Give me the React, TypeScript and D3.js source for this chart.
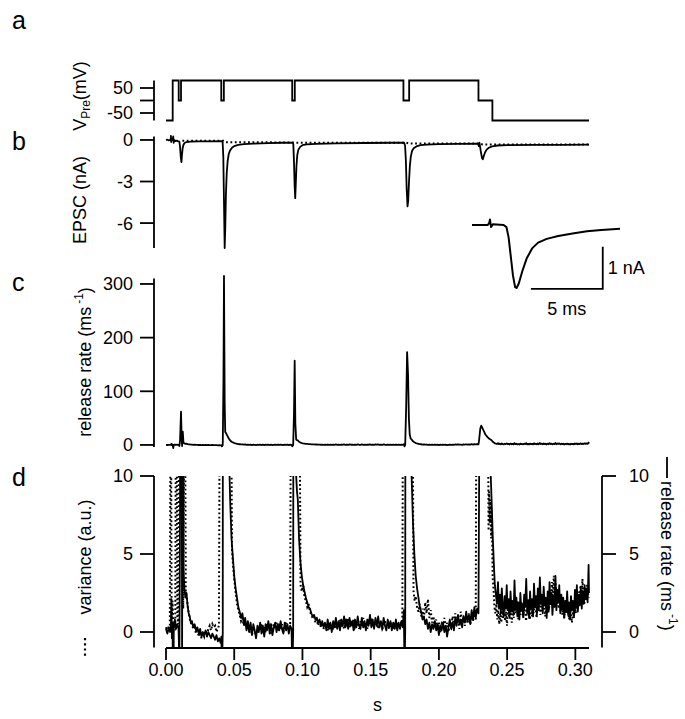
import React from 'react';
import * as d3 from 'd3';

// time axis (s)
const timeTicks = [0, 0.05, 0.1, 0.15, 0.2, 0.25, 0.3];

// a: presynaptic command potential, step times (ms) and levels (mV)
const vPreTimes = [0, 4.9, 9.3, 11.0, 40.5, 42.4, 92.5, 94.4, 174.0, 178.2, 229.0, 239.2, 310];
const vPreLevels = [-80, 80, 0, 80, 0, 80, 0, 80, 0, 80, 0, -80, -80];
const vPreTicks = [50, 0, -50];
const vPreLabels = ['50', '', '-50'];

// b: EPSC (ms, nA)
const epscTicks = [0, -3, -6];
const epsc: [number, number][] = [
  [0, 0], [1, 0.02], [2, -0.03], [3, 0], [3.4, 0], [3.6, 0.3], [3.8, -0.15], [4.1, 0.05], [4.8, 0],
  [5.3, 0.25], [5.6, -0.2], [6.0, 0], [7, -0.08], [8, -0.05], [9, -0.1], [9.8, -0.12], [10.3, -0.5],
  [10.8, -1.2], [11.3, -1.6], [11.7, -1.1], [12.2, -0.6], [12.8, -0.35], [13.6, -0.22], [15, -0.15],
  [18, -0.12], [24, -0.1], [32, -0.1], [40.8, -0.08], [41.5, -0.15], [42.0, -1.2], [42.5, -4.5],
  [43.0, -7.8], [43.4, -6.5], [43.9, -4.0], [44.5, -2.4], [45.2, -1.5], [46, -1.0], [47, -0.75],
  [48.5, -0.55], [50.5, -0.42], [53, -0.35], [57, -0.3], [64, -0.26], [75, -0.23], [85, -0.2],
  [92.8, -0.2], [93.3, -0.3], [93.8, -1.6], [94.3, -3.4], [94.7, -4.2], [95.1, -3.2], [95.6, -1.9],
  [96.2, -1.1], [97, -0.7], [98.3, -0.5], [100, -0.38], [103, -0.32], [110, -0.28], [125, -0.25],
  [145, -0.22], [165, -0.2], [174.5, -0.2], [175.2, -0.4], [175.8, -1.5], [176.4, -3.6], [177.0, -4.8],
  [177.5, -4.4], [178.1, -3.0], [178.7, -1.9], [179.4, -1.2], [180.3, -0.8], [181.5, -0.6],
  [183.5, -0.47], [186.5, -0.38], [191, -0.33], [200, -0.3], [214, -0.28], [228.8, -0.27],
  [229.3, -0.45], [229.7, -0.2], [230.2, -0.5], [230.9, -0.95], [231.6, -1.3], [232.2, -1.4],
  [232.9, -1.15], [233.8, -0.9], [235, -0.7], [236.6, -0.56], [239, -0.46], [243, -0.4], [250, -0.37],
  [270, -0.35], [290, -0.35], [310, -0.34],
];
const epscBaseline: [number, number][] = [
  [12, -0.05], [42, -0.06], [44, -0.16], [93.5, -0.18], [95.5, -0.2], [176, -0.2], [178, -0.25],
  [230, -0.26], [232, -0.32], [310, -0.32],
];
// inset: single EPSC on expanded time base (ms, nA)
const insetEpsc: [number, number][] = [
  [0, 0], [1.1, 0], [1.2, 0.05], [1.25, 0.13], [1.33, -0.05], [1.45, 0.02], [2.2, 0], [2.4, -0.05],
  [2.55, -0.3], [2.7, -0.75], [2.85, -1.2], [3.0, -1.48], [3.1, -1.5], [3.25, -1.4], [3.5, -1.1],
  [3.8, -0.8], [4.2, -0.55], [4.6, -0.42], [5.2, -0.33], [6, -0.26], [7, -0.2], [8, -0.15], [9, -0.12],
  [10.3, -0.09],
];

// c/d: release rate (ms, 1/ms)
const rateTicks = [0, 100, 200, 300];
const releaseRate: [number, number][] = [
  [0, 0.2], [1, -0.1], [2, 0.3], [3, 0], [3.6, 0.4], [4.0, 2.1], [4.3, -0.4], [4.8, 0.6], [5.3, -6],
  [5.7, 0.3], [6.5, 0.8], [7.3, 0.2], [8.2, 0.5], [9.2, 0.2], [9.8, -2], [10.3, 8], [11.0, 62],
  [11.4, 20], [11.8, -2], [12.3, 25], [12.8, 4], [13.5, 2.8], [14.2, 2.2], [15.0, 2.5], [15.8, 1.7],
  [16.6, 1.2], [17.4, 1.0], [18.2, 0.6], [19, 0.7], [20, 0.3], [21, 0.5], [22, 0.1], [23, 0.3],
  [24, -0.1], [25, 0.2], [26, -0.3], [27, 0], [28, -0.2], [29, 0.1], [30, -0.3], [31, 0], [32, -0.2],
  [33, -0.4], [34, -0.1], [35, -0.3], [36, -0.5], [37, -0.2], [38, -0.6], [39, -0.4], [40, -0.7],
  [40.6, -0.3], [41.0, -2.5], [41.6, 0], [42.1, 120], [42.5, 315], [43.0, 80], [43.4, 24], [44.0, 22],
  [45, 17], [46, 12], [47, 8.5], [48, 6], [49, 4.8], [50, 3.6], [51, 2.8], [52, 2.2], [53, 1.6],
  [54, 1.3], [55, 0.9], [56, 1.2], [57, 0.5], [58, 0.9], [59, 0.1], [60, 0.7], [61, 0.0], [62, 0.6],
  [63, -0.2], [64, 0.5], [65, 0.1], [66, -0.4], [67, 0.4], [68, 0.0], [69, 0.6], [70, -0.1], [71, 0.4],
  [72, -0.3], [73, 0.5], [74, 0.1], [75, 0.7], [76, -0.1], [77, 0.5], [78, -0.2], [79, 0.3], [80, 0.6],
  [81, 0.0], [82, 0.5], [83, 0.1], [84, 0.7], [85, 0.2], [86, -0.1], [87, 0.6], [88, 0.1], [89, 0.5],
  [90, -0.1], [91, 0.4], [92, 0.2], [92.6, -2.5], [93.2, 0], [93.8, 60], [94.3, 157], [94.8, 40],
  [95.4, 10], [96.0, 9], [96.6, 8.5], [97.5, 6], [98.5, 4.5], [99.5, 3.6], [100.5, 3.0], [101.5, 2.6],
  [102.5, 2.2], [103.5, 1.9], [104.5, 1.6], [105.5, 1.5], [106.5, 1.2], [107.5, 1.0], [108.5, 1.1],
  [109.5, 0.8], [110.5, 0.9], [111.5, 0.6], [112.5, 0.8], [113.5, 0.4], [114.5, 0.7], [115.5, 0.3],
  [116.5, 0.6], [117.5, 0.1], [118.5, 0.8], [119.5, 0.2], [120.5, 0.6], [121.5, 0.0], [122.5, 0.7],
  [123.5, 0.3], [124.5, 0.9], [125.5, 0.2], [126.5, 0.7], [127.5, 0.1], [128.5, 0.8], [129.5, 0.4],
  [130.5, 1.0], [131.5, 0.3], [132.5, 0.8], [133.5, 0.2], [134.5, 0.9], [135.5, 0.4], [136.5, 0.7],
  [137.5, 0.1], [138.5, 0.8], [139.5, 0.3], [140.5, 1.0], [141.5, 0.4], [142.5, 0.2], [143.5, 0.9],
  [144.5, 0.3], [145.5, 0.7], [146.5, 0.1], [147.5, 0.8], [148.5, 0.4], [149.5, 1.1], [150.5, 0.3],
  [151.5, 0.8], [152.5, 0.2], [153.5, 0.9], [154.5, 0.4], [155.5, 1.0], [156.5, 0.3], [157.5, 0.7],
  [158.5, 0.2], [159.5, 0.9], [160.5, 0.4], [161.5, 0.1], [162.5, 0.8], [163.5, 0.3], [164.5, 0.7],
  [165.5, 0.1], [166.5, 0.6], [167.5, 0.2], [168.5, 0.8], [169.5, 0.1], [170.5, 0.6], [171.5, 0.2],
  [172.5, 0.7], [173.5, 0.3], [174.3, 1.4], [174.8, -2.5], [175.3, 0], [176.0, 70], [176.7, 173],
  [177.4, 130], [178.0, 50], [178.6, 20], [179.3, 12], [180, 10], [181, 7], [182, 5], [183, 3.6],
  [184, 2.8], [185, 2.2], [186, 1.6], [187, 1.3], [188, 0.8], [189, 1.0], [190, 0.5], [191, 0.8],
  [192, 0.2], [193, 0.6], [194, 0], [195, 0.5], [196, 0.2], [197, 0.7], [198, 0.1], [199, 0.5],
  [200, -0.2], [201, 0.4], [202, 0.1], [203, 0.6], [204, 0], [205, 0.4], [206, -0.3], [207, 0.3],
  [208, 0.8], [209, 0.2], [210, 0.6], [211, 0.1], [212, 0.9], [213, 0.4], [214, 1.1], [215, 0.5],
  [216, 0.8], [217, 0.3], [218, 1.0], [219, 0.6], [220, 1.3], [221, 0.7], [222, 1.1], [223, 0.5],
  [224, 1.4], [225, 0.8], [226, 1.6], [227, 0.9], [228, 1.5], [229, 1.2], [229.5, 10], [230.3, 30],
  [231.0, 36], [231.8, 32], [232.5, 28], [233.3, 24], [234.2, 19], [235.2, 16], [236.2, 13],
  [237.2, 11], [238.0, 10], [238.8, 8], [239.5, 6], [240.2, 4.5], [241, 3.0], [241.8, 2.4],
  [242.5, 1.8], [243.3, 3.2], [244, 1.5], [244.7, 2.4], [245.4, 1.2], [246.1, 2.8], [246.8, 1.6],
  [247.5, 1.0], [248.2, 2.3], [249, 1.5], [249.7, 3.0], [250.4, 1.4], [251.1, 2.1], [251.8, 0.9],
  [252.5, 2.6], [253.2, 1.3], [254, 2.0], [254.7, 1.1], [255.4, 3.3], [256.1, 1.5], [256.8, 2.2],
  [257.5, 1.0], [258.2, 1.9], [259, 0.8], [259.7, 2.5], [260.4, 1.4], [261.1, 1.8], [261.8, 1.0],
  [262.5, 2.4], [263.2, 1.6], [264, 3.4], [264.7, 1.2], [265.4, 2.0], [266.1, 0.9], [266.8, 2.6],
  [267.5, 1.5], [268.2, 2.1], [269, 1.0], [269.7, 3.1], [270.4, 1.6], [271.1, 2.3], [271.8, 1.1],
  [272.5, 2.8], [273.2, 1.4], [274, 3.5], [274.7, 1.8], [275.4, 2.4], [276.1, 1.2], [276.8, 2.9],
  [277.5, 1.7], [278.2, 2.2], [279, 0.9], [279.7, 2.6], [280.4, 1.3], [281.1, 3.2], [281.8, 1.8],
  [282.5, 2.5], [283.2, 1.1], [284, 2.3], [284.7, 1.6], [285.4, 3.6], [286.1, 1.4], [286.8, 2.7],
  [287.5, 1.9], [288.2, 3.0], [289, 1.2], [289.7, 2.4], [290.4, 1.5], [291.1, 2.2], [291.8, 0.9],
  [292.5, 2.0], [293.2, 1.3], [294, 2.6], [294.7, 1.1], [295.4, 1.9], [296.1, 0.8], [296.8, 2.3],
  [297.5, 1.4], [298.2, 2.0], [299, 1.0], [299.7, 2.7], [300.4, 1.6], [301.1, 3.0], [301.8, 1.3],
  [302.5, 2.4], [303.2, 1.7], [304, 2.9], [304.7, 1.5], [305.4, 2.6], [306.1, 1.8], [306.8, 3.0],
  [307.5, 2.1], [308.2, 2.8], [309, 1.9], [309.7, 4.3], [310, 2.5],
];

// d: variance of the EPSC (ms, a.u.)
const zoomTicks = [0, 5, 10];
const variance: [number, number][] = [
  [0, 0.3], [1, 0], [2, 0.4], [2.8, 0.1], [3.3, 14], [3.7, 14], [4.1, 0.8], [4.8, 2.0], [5.4, 0.2],
  [6.2, 0.6], [6.8, 0.1], [7.2, 14], [7.8, 14], [8.3, 1.0], [9, 0.5], [9.6, 14], [12, 14], [12.6, 1.5],
  [13.4, 14], [14.0, 14], [14.5, 2.6], [15.3, 2.2], [16, 1.6], [17, 1.0], [18, 0.6], [19, 0.5],
  [20, 0.2], [21, 0.3], [22, -0.1], [23, 0.2], [24, -0.3], [25, 0], [26, -0.4], [27, -0.1], [28, -0.3],
  [29, 0.1], [30, -0.2], [31, 0.2], [32, 0.4], [33, 0.1], [34, 0.5], [35, 0.3], [36, 0.4], [37, 0],
  [38, 0.2], [38.8, 0.4], [39.3, 14], [47.8, 14], [48.4, 5.2], [49.2, 4.2], [50, 3.4], [51, 2.6],
  [52, 1.8], [53, 1.4], [54, 1.1], [55, 0.7], [56, 0.9], [57, 0.4], [58, 0.7], [59, 0.2], [60, 0.5],
  [61, 0], [62, 0.4], [63, -0.2], [64, 0.3], [65, 0.1], [66, -0.3], [67, 0.2], [68, 0.4], [69, 0.1],
  [70, 0.5], [71, -0.1], [72, 0.3], [73, 0], [74, 0.5], [75, 0.2], [76, 0.4], [77, -0.1], [78, 0.3],
  [79, 0.5], [80, 0.2], [81, 0.6], [82, 0.1], [83, 0.4], [84, 0.2], [85, 0.5], [86, 0], [87, 0.3],
  [88, 0.6], [89, 0.2], [90, 0.4], [91, 0.3], [91.4, 14], [98.0, 14], [98.6, 3.0], [99.5, 2.6],
  [100.5, 3.1], [101.5, 2.2], [102.5, 2.0], [103.5, 1.6], [104.5, 1.8], [105.5, 1.3], [106.5, 1.1],
  [107.5, 0.9], [108.5, 1.0], [109.5, 0.6], [110.5, 0.8], [111.5, 0.4], [112.5, 0.7], [113.5, 0.3],
  [114.5, 0.6], [115.5, 0.2], [116.5, 0.5], [117.5, 0.4], [118.5, 0.1], [119.5, 0.6], [120.5, 0.2],
  [121.5, 0.5], [122.5, 0.3], [123.5, 0.7], [124.5, 0.2], [125.5, 0.5], [126.5, 0.4], [127.5, 0.8],
  [128.5, 0.3], [129.5, 0.6], [130.5, 0.2], [131.5, 0.7], [132.5, 0.5], [133.5, 0.9], [134.5, 0.3],
  [135.5, 0.6], [136.5, 0.4], [137.5, 0.8], [138.5, 0.3], [139.5, 0.5], [140.5, 0.6], [141.5, 0.2],
  [142.5, 0.7], [143.5, 0.4], [144.5, 0.9], [145.5, 0.3], [146.5, 0.6], [147.5, 0.2], [148.5, 0.8],
  [149.5, 0.5], [150.5, 0.7], [151.5, 0.3], [152.5, 0.6], [153.5, 0.4], [154.5, 0.7], [155.5, 0.2],
  [156.5, 0.5], [157.5, 0.6], [158.5, 0.2], [159.5, 0.4], [160.5, 0.7], [161.5, 0.3], [162.5, 0.5],
  [163.5, 0.2], [164.5, 0.6], [165.5, 0.4], [166.5, 0.3], [167.5, 0.6], [168.5, 0.2], [169.5, 0.5],
  [170.5, 0.4], [171.5, 0.3], [172.5, 0.7], [173.2, 0.5], [173.6, 14], [180.8, 14], [181.4, 2.6],
  [182.2, 2.0], [183, 2.3], [184, 1.6], [185, 1.3], [186, 1.8], [187, 1.0], [188, 1.5], [189, 0.8],
  [190, 1.9], [191, 1.2], [192, 2.1], [193, 0.9], [194, 1.4], [195, 0.6], [196, 1.0], [197, 0.3],
  [198, 0.8], [199, 0.2], [200, 0.6], [201, 0], [202, 0.5], [203, 0.3], [204, 0.9], [205, 0.2],
  [206, 0.6], [207, 0], [208, 0.5], [209, 0.3], [210, 1.0], [211, 0.4], [212, 1.2], [213, 0.6],
  [214, 0.9], [215, 0.2], [216, 1.3], [217, 0.7], [218, 0.9], [219, 0.4], [220, 1.0], [221, 0.6],
  [222, 1.2], [223, 0.5], [224, 1.0], [225, 0.7], [226, 1.3], [227, 0.8], [227.4, 14], [236.0, 14],
  [236.4, 6.5], [236.8, 9], [237.3, 7], [237.8, 8.5], [238.3, 6], [238.8, 7.5], [239.4, 3.5],
  [240, 2.8], [240.7, 1.6], [241.4, 1.2], [242.1, 1.8], [242.8, 0.8], [243.5, 1.4], [244.2, 0.5],
  [245, 1.2], [245.7, 0.6], [246.4, 1.5], [247.1, 0.9], [247.8, 1.8], [248.5, 0.7], [249.2, 1.3],
  [249.9, 0.4], [250.6, 1.6], [251.3, 1.0], [252, 1.9], [252.7, 1.1], [253.4, 0.6], [254.1, 1.4],
  [254.8, 0.9], [255.5, 1.7], [256.2, 1.2], [256.9, 2.0], [257.6, 1.3], [258.3, 0.8], [259, 1.6],
  [259.7, 1.1], [260.4, 1.9], [261.1, 1.4], [261.8, 0.9], [262.5, 1.7], [263.2, 1.2], [263.9, 0.7],
  [264.6, 1.5], [265.3, 2.1], [266, 1.3], [266.7, 0.8], [267.4, 1.6], [268.1, 1.0], [268.8, 1.8],
  [269.5, 1.2], [270.2, 2.2], [270.9, 1.5], [271.6, 0.9], [272.3, 1.7], [273, 2.4], [273.7, 1.6],
  [274.4, 1.1], [275.1, 1.9], [275.8, 1.3], [276.5, 2.3], [277.2, 1.5], [277.9, 1.0], [278.6, 1.8],
  [279.3, 1.2], [280, 2.0], [280.7, 1.4], [281.4, 2.5], [282.1, 1.7], [282.8, 3.2], [283.5, 2.2],
  [284.2, 3.6], [284.9, 2.4], [285.6, 3.1], [286.3, 1.8], [287, 2.7], [287.7, 1.5], [288.4, 2.3],
  [289.1, 1.3], [289.8, 2.0], [290.5, 1.1], [291.2, 1.8], [291.9, 0.9], [292.6, 1.6], [293.3, 1.2],
  [294, 2.0], [294.7, 1.4], [295.4, 0.8], [296.1, 1.5], [296.8, 1.1], [297.5, 0.6], [298.2, 1.3],
  [298.9, 0.9], [299.6, 1.7], [300.3, 1.2], [301, 2.2], [301.7, 1.5], [302.4, 2.6], [303.1, 1.8],
  [303.8, 3.0], [304.5, 2.1], [305.2, 3.4], [305.9, 2.3], [306.6, 1.8], [307.3, 2.8], [308, 2.0],
  [308.7, 3.1], [309.4, 2.4], [310, 2.2],
];

const FONT = "'Liberation Sans', Arial, Helvetica, sans-serif";
const SW = 1.8;
const FS = 18;

type Scale = d3.ScaleLinear<number, number>;

function LeftAxis({ scale, ticks, labels, x0, top, bottom }: {
  scale: Scale; ticks: number[]; labels: string[]; x0: number; top: number; bottom: number;
}) {
  return (
    <g>
      <line x1={x0} x2={x0} y1={top} y2={bottom} stroke="#000" strokeWidth={SW} />
      {ticks.map((t, i) => (
        <g key={i}>
          <line x1={x0 - 14} x2={x0} y1={scale(t)} y2={scale(t)} stroke="#000" strokeWidth={SW} />
          <text x={x0 - 21} y={scale(t)} dy="0.36em" textAnchor="end" fontSize={FS}>{labels[i]}</text>
        </g>
      ))}
    </g>
  );
}

export default function App() {
  const x = d3.scaleLinear().domain([0, 0.31]).range([166, 589]);
  const yA = d3.scaleLinear().domain([-80, 80]).range([120.5, 80.5]);
  const yB = d3.scaleLinear().domain([-7.8, 0.25]).range([248, 136.5]);
  const yC = d3.scaleLinear().domain([-4, 310]).range([447.1, 278.6]);
  const yD = d3.scaleLinear().domain([-1, 10]).range([647.6, 476]);
  const xi = d3.scaleLinear().domain([0, 10.3]).range([472, 620]);
  const yi = d3.scaleLinear().domain([-1.5, 0]).range([288, 225]);

  const vPre: [number, number][] = vPreTimes.map((t, i) => [t, vPreLevels[i]]);
  const lineA = d3.line<[number, number]>().x(d => x(d[0] / 1000)).y(d => yA(d[1])).curve(d3.curveStepAfter);
  const lineB = d3.line<[number, number]>().x(d => x(d[0] / 1000)).y(d => yB(d[1]));
  const lineC = d3.line<[number, number]>().x(d => x(d[0] / 1000)).y(d => yC(d[1]));
  const lineD = d3.line<[number, number]>().x(d => x(d[0] / 1000)).y(d => yD(d[1]));
  const lineI = d3.line<[number, number]>().x(d => xi(d[0])).y(d => yi(d[1]));

  const axisX = 154;
  const rightX = 602;
  const baseY = 648;

  return (
    <svg width={685} height={719} style={{ position: 'absolute', left: 0, top: 0, background: '#fff' }}
      fontFamily={FONT} fill="#000">
      <defs>
        <clipPath id="clipD">
          <rect x={x(0) - 2} y={yD(10)} width={x(0.31) - x(0) + 4} height={yD(-1) - yD(10)} />
        </clipPath>
      </defs>

      {/* panel letters */}
      <text x={12} y={29} fontSize={25}>a</text>
      <text x={12} y={150} fontSize={25}>b</text>
      <text x={12} y={291} fontSize={25}>c</text>
      <text x={12} y={486} fontSize={25}>d</text>

      {/* a */}
      <LeftAxis scale={yA} ticks={vPreTicks} labels={vPreLabels} x0={axisX} top={yA(80)} bottom={yA(-80)} />
      <text transform="translate(86,96) rotate(-90)" textAnchor="middle" fontSize={FS}>
        V<tspan fontSize={12} dy="4">Pre</tspan><tspan dy="-4">(mV)</tspan>
      </text>
      <path d={lineA(vPre) ?? ''} fill="none" stroke="#000" strokeWidth={SW} />

      {/* b */}
      <LeftAxis scale={yB} ticks={epscTicks} labels={epscTicks.map(String)} x0={axisX} top={yB(0.25)} bottom={yB(-7.8)} />
      <text transform="translate(86,200) rotate(-90)" textAnchor="middle" fontSize={FS}>EPSC (nA)</text>
      <path d={lineB(epscBaseline) ?? ''} fill="none" stroke="#000" strokeWidth={2} strokeDasharray="1.8,2.6" />
      <path d={lineB(epsc) ?? ''} fill="none" stroke="#000" strokeWidth={SW} strokeLinejoin="round" />

      {/* inset */}
      <path d={lineI(insetEpsc) ?? ''} fill="none" stroke="#000" strokeWidth={2} strokeLinejoin="round" />
      <path d={`M${xi(4.1)},${yi(-1.52)}H${xi(9.1)}V${yi(-0.52)}`} fill="none" stroke="#000" strokeWidth={SW} />
      <text x={xi(9.1) + 5} y={yi(-1.02)} dy="0.36em" fontSize={FS}>1 nA</text>
      <text x={xi(6.6)} y={yi(-1.52) + 26} textAnchor="middle" fontSize={FS}>5 ms</text>

      {/* c */}
      <LeftAxis scale={yC} ticks={rateTicks} labels={rateTicks.map(String)} x0={axisX} top={yC(310)} bottom={yC(-4)} />
      <text transform="translate(91,362) rotate(-90)" textAnchor="middle" fontSize={FS}>
        release rate (ms<tspan fontSize={12} dx="3" dy="-8">-1</tspan><tspan dy="8">)</tspan>
      </text>
      <path d={lineC(releaseRate) ?? ''} fill="none" stroke="#000" strokeWidth={SW} strokeLinejoin="round" />

      {/* d */}
      <LeftAxis scale={yD} ticks={zoomTicks} labels={zoomTicks.map(String)} x0={axisX} top={yD(10)} bottom={yD(-1)} />
      <line x1={rightX} x2={rightX} y1={yD(10)} y2={yD(-1)} stroke="#000" strokeWidth={SW} />
      {zoomTicks.map(t => (
        <g key={t}>
          <line x1={rightX} x2={rightX + 14} y1={yD(t)} y2={yD(t)} stroke="#000" strokeWidth={SW} />
          <text x={rightX + 27} y={yD(t)} dy="0.36em" fontSize={FS}>{t}</text>
        </g>
      ))}
      <line x1={85} x2={85} y1={638} y2={658} stroke="#000" strokeWidth={2.2} strokeDasharray="2.2,3" />
      <text transform="translate(91,557) rotate(-90)" textAnchor="middle" fontSize={FS}>variance (a.u.)</text>
      <line x1={667} x2={667} y1={457} y2={478} stroke="#000" strokeWidth={SW} />
      <text transform="translate(661,481) rotate(90)" fontSize={FS}>
        release rate (ms<tspan fontSize={12} dx="3" dy="-8">-1</tspan><tspan dy="8">)</tspan>
      </text>
      <g clipPath="url(#clipD)">
        <path d={lineD(variance) ?? ''} fill="none" stroke="#000" strokeWidth={2} strokeDasharray="1.8,2.4" />
        <path d={lineD(releaseRate) ?? ''} fill="none" stroke="#000" strokeWidth={SW} strokeLinejoin="round" />
      </g>

      {/* time axis */}
      <line x1={x(0)} x2={x(0.31)} y1={baseY} y2={baseY} stroke="#000" strokeWidth={SW} />
      {timeTicks.map(t => (
        <g key={t}>
          <line x1={x(t)} x2={x(t)} y1={baseY} y2={baseY + 12} stroke="#000" strokeWidth={SW} />
          <text x={x(t)} y={676} textAnchor="middle" fontSize={FS}>{t.toFixed(2)}</text>
        </g>
      ))}
      <text x={x(0.155)} y={711} textAnchor="middle" fontSize={FS}>s</text>
    </svg>
  );
}
